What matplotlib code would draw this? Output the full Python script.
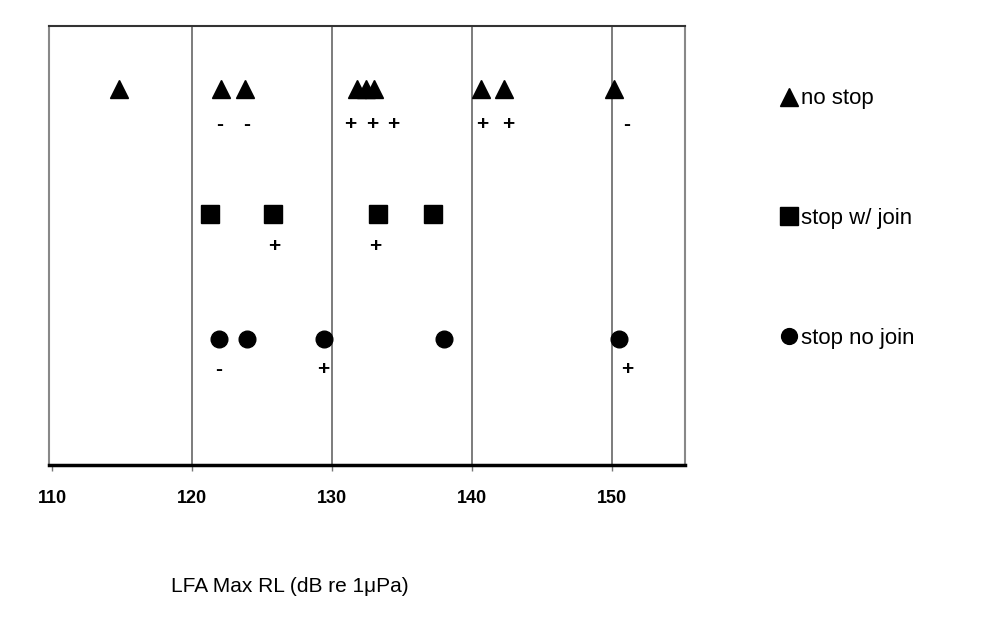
import matplotlib
matplotlib.use('Agg')
import matplotlib.pyplot as plt

plt.rcParams['font.family'] = ['Liberation Sans', 'DejaVu Sans']

# rows: 3 = no stop, 2 = stop w/ join, 1 = stop no join
no_stop_x = [114.8, 122.1, 123.8, 131.8, 132.4, 133.0, 140.6, 142.3, 150.1]
join_x = [121.3, 125.8, 133.3, 137.2]
no_join_x = [121.9, 123.9, 129.4, 138.0, 150.5]

# +/- marks printed under the symbols
no_stop_sign_x = [122.0, 123.9, 131.3, 132.9, 134.4, 140.7, 142.6, 151.0]
no_stop_signs = ['-', '-', '+', '+', '+', '+', '+', '-']
join_sign_x = [125.9, 133.1]
join_signs = ['+', '+']
no_join_sign_x = [121.9, 129.4, 151.1]
no_join_signs = ['-', '+', '+']

row_labels = ['no stop', 'stop w/ join', 'stop no join']
x_ticks = [110, 120, 130, 140, 150]

fig = plt.figure(figsize=(10.03, 6.18), dpi=100)
ax = fig.add_axes([0.049, 0.248, 0.634, 0.71])

rows = [(3, no_stop_x, '^', 13, no_stop_sign_x, no_stop_signs, 0.29),
        (2, join_x, 's', 13.5, join_sign_x, join_signs, 0.26),
        (1, no_join_x, 'o', 12, no_join_sign_x, no_join_signs, 0.24)]

handles = []
for (yv, xs, mk, ms, sx, ss, off), lab in zip(rows, row_labels):
    h, = ax.plot(xs, [yv] * len(xs), linestyle='none', marker=mk,
                 markersize=ms, color='black', label=lab, zorder=3)
    handles.append(h)
    for x, s in zip(sx, ss):
        ax.text(x, yv - off, s, ha='center', va='center',
                fontsize=15, fontweight='bold', color='black')

ax.set_xlim(109.8, 155.2)
ax.set_ylim(0, 3.5)
ax.set_xticks(x_ticks)
ax.set_xticklabels([str(t) for t in x_ticks], fontsize=13, fontweight='bold')
ax.set_yticks([])
ax.tick_params(axis='x', direction='out', length=4, width=1,
               color='#777777', pad=14)

for t in x_ticks[1:]:
    ax.axvline(t, color='#666666', linewidth=1.2, zorder=1)

ax.spines['left'].set_color('#888888')
ax.spines['right'].set_color('#888888')
ax.spines['left'].set_linewidth(1.5)
ax.spines['right'].set_linewidth(1.5)
ax.spines['top'].set_color('#333333')
ax.spines['top'].set_linewidth(1.5)
ax.spines['bottom'].set_color('black')
ax.spines['bottom'].set_linewidth(2.5)

ax.set_xlabel('LFA Max RL (dB re 1\u03bcPa)', fontsize=15)
ax.xaxis.set_label_coords(0.379, -0.255)

ax.legend(handles=handles, loc='upper left', bbox_to_anchor=(0.768, 0.875),
          bbox_transform=fig.transFigure, frameon=False, fontsize=16,
          handlelength=0.7, handletextpad=0.2, labelspacing=4.45,
          borderpad=0, markerscale=0.95)

plt.savefig('out.png', dpi=100)
